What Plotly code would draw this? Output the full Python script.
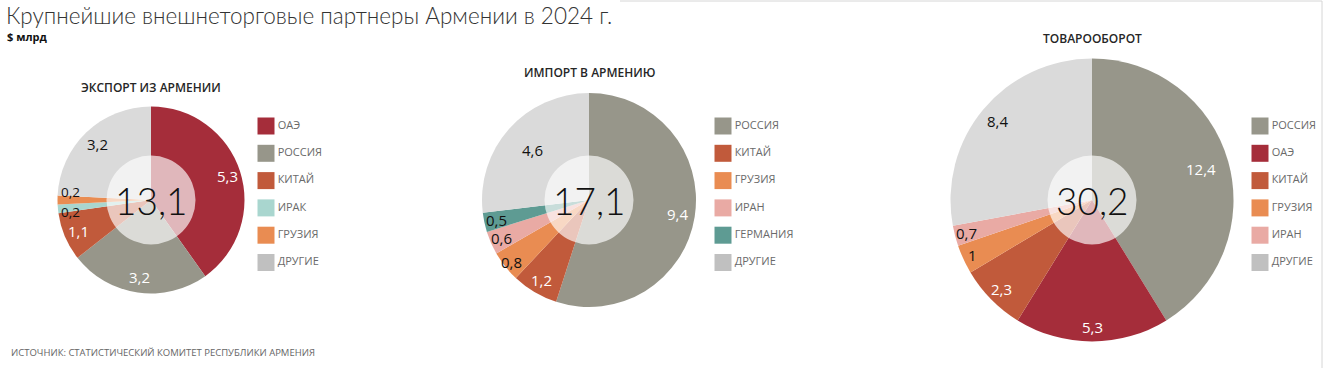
import math
import plotly.graph_objects as go

W, H = 1326, 368

# ---------------- data ----------------
export_labels = ["ОАЭ", "РОССИЯ", "КИТАЙ", "ИРАК", "ГРУЗИЯ", "ДРУГИЕ"]
export_values = [5.3, 3.2, 1.1, 0.2, 0.2, 3.2]
export_total = 13.1

import_labels = ["РОССИЯ", "КИТАЙ", "ГРУЗИЯ", "ИРАН", "ГЕРМАНИЯ", "ДРУГИЕ"]
import_values = [9.4, 1.2, 0.8, 0.6, 0.5, 4.6]
import_total = 17.1

trade_labels = ["РОССИЯ", "ОАЭ", "КИТАЙ", "ГРУЗИЯ", "ИРАН", "ДРУГИЕ"]
trade_values = [12.4, 5.3, 2.3, 1.0, 0.7, 8.4]
trade_total = 30.2

chart_titles = ["ЭКСПОРТ ИЗ АРМЕНИИ", "ИМПОРТ В АРМЕНИЮ", "ТОВАРООБОРОТ"]
main_title = "Крупнейшие внешнеторговые партнеры Армении в 2024 г."
unit_text = "$ млрд"
source_text = "ИСТОЧНИК: СТАТИСТИЧЕСКИЙ КОМИТЕТ РЕСПУБЛИКИ АРМЕНИЯ"

# ---------------- styles ----------------
COLORS = {
    "ОАЭ": "#A52D3A",
    "РОССИЯ": "#97968A",
    "КИТАЙ": "#C15A3B",
    "ИРАК": "#A9D6CF",
    "ГРУЗИЯ": "#E98C52",
    "ИРАН": "#E9AAA4",
    "ГЕРМАНИЯ": "#5E9B93",
    "ДРУГИЕ": "#DADADA",
}
SWATCH = dict(COLORS, **{"ДРУГИЕ": "#C0C0C0"})
WHITE_TEXT = {"ОАЭ", "РОССИЯ", "КИТАЙ"}

# layout geometry (pixels): centre x, centre y, radius, title y, legend swatch x,
# label radial factor, small angular nudge (deg) and font size per slice label
PIES = [
    dict(cx=151, cy=200, r=93.5, ty=87, lx=266,
         rf=[0.86, 0.83, 0.84, 0.87, 0.87, 0.83], da=[0, 0, 0, -3, 5.5, 0],
         fs=[15, 15, 15, 13.5, 13.5, 15]),
    dict(cx=589, cy=200, r=107, ty=72, lx=723,
         rf=[0.84, 0.87, 0.93, 0.89, 0.88, 0.70], da=[0, 0, 0, 0, 0, 0],
         fs=[15, 15, 15, 15, 15, 15]),
    dict(cx=1092, cy=200, r=141.5, ty=39, lx=1260,
         rf=[0.80, 0.90, 0.90, 0.93, 0.92, 0.87], da=[0, 0, 0, 0, 0, 0],
         fs=[15, 15, 15, 15, 15, 15]),
]
INNER_R = 44.5
LEG_TOP, LEG_STEP = 126, 27.3

FONT = "Open Sans"
LIGHT = "Lato"

datasets = [
    (export_labels, export_values, export_total),
    (import_labels, import_values, import_total),
    (trade_labels, trade_values, trade_total),
]


def fmt(v):
    return f"{v:g}".replace(".", ",")


def domain(cx, cy, r):
    return dict(x=[(cx - r) / W, (cx + r) / W], y=[(H - cy - r) / H, (H - cy + r) / H])


fig = go.Figure()
annotations = []
layout_axes = {}

for i, ((labels, values, total), g) in enumerate(zip(datasets, PIES)):
    cx, cy, r = g["cx"], g["cy"], g["r"]
    fig.add_trace(go.Pie(
        labels=labels, values=values, sort=False, direction="clockwise", rotation=0,
        marker=dict(colors=[COLORS[l] for l in labels], line=dict(width=0)),
        textinfo="none", hoverinfo="label+value", showlegend=False,
        domain=domain(cx, cy, r),
    ))
    # semi-transparent centre disc with the total
    fig.add_trace(go.Pie(
        values=[1], labels=[""], sort=False,
        marker=dict(colors=["rgba(255,255,255,0.66)"], line=dict(width=0)),
        textinfo="none", hoverinfo="skip", showlegend=False,
        domain=domain(cx, cy, INNER_R),
    ))
    annotations.append(dict(
        x=cx / W, y=(H - cy) / H, xref="paper", yref="paper", text=fmt(total),
        showarrow=False, xanchor="center", yanchor="middle",
        font=dict(family=LIGHT, size=37, color="#111", weight=300),
    ))
    # slice value labels placed along each slice bisector
    tot = sum(values)
    cum = 0.0
    for k, (lab, v) in enumerate(zip(labels, values)):
        mid = (cum + v / 2) / tot * 2 * math.pi + math.radians(g["da"][k])
        cum += v
        R = g["rf"][k] * r
        px = cx + R * math.sin(mid)
        py = cy - R * math.cos(mid)
        annotations.append(dict(
            x=px / W, y=(H - py) / H, xref="paper", yref="paper", text=fmt(v),
            showarrow=False, xanchor="center", yanchor="middle",
            font=dict(family=FONT, size=g["fs"][k],
                      color="#ffffff" if lab in WHITE_TEXT else "#111111"),
        ))
    # chart sub-title
    annotations.append(dict(
        x=cx / W, y=(H - g["ty"]) / H, xref="paper", yref="paper", text=chart_titles[i],
        showarrow=False, xanchor="center", yanchor="middle",
        font=dict(family=FONT, size=12, color="#262626", weight=600),
    ))
    # legend drawn as a scatter on hidden axes
    ax = "" if i == 0 else str(i + 1)
    fig.add_trace(go.Scatter(
        x=[0] * len(labels), y=list(range(len(labels))),
        mode="markers+text", text=labels, textposition="middle right",
        marker=dict(symbol="square", size=17, color=[SWATCH[l] for l in labels], line=dict(width=0)),
        textfont=dict(family=FONT, size=11, color="#6a6a6a"),
        xaxis="x" + ax, yaxis="y" + ax, showlegend=False, hoverinfo="skip", cliponaxis=False,
    ))
    n = len(labels)
    top = LEG_TOP
    bot = LEG_TOP + LEG_STEP * (n - 1)
    layout_axes["xaxis" + ax] = dict(domain=[g["lx"] / W, (g["lx"] + 60) / W], range=[0, 1],
                                     visible=False, fixedrange=True, anchor="y" + ax)
    layout_axes["yaxis" + ax] = dict(domain=[(H - bot) / H, (H - top) / H], range=[n - 1, 0],
                                     visible=False, fixedrange=True, anchor="x" + ax)

annotations += [
    dict(x=4 / W, y=(H - 16) / H, xref="paper", yref="paper", text=main_title,
         showarrow=False, xanchor="left", yanchor="middle",
         font=dict(family=LIGHT, size=22.5, color="#333333", weight=300)),
    dict(x=5 / W, y=(H - 37) / H, xref="paper", yref="paper", text=unit_text,
         showarrow=False, xanchor="left", yanchor="middle",
         font=dict(family=FONT, size=11, color="#111111", weight=700)),
    dict(x=9 / W, y=(H - 352) / H, xref="paper", yref="paper", text=source_text,
         showarrow=False, xanchor="left", yanchor="middle",
         font=dict(family=FONT, size=9.5, color="#666666")),
]

fig.update_layout(
    width=W, height=H, autosize=False,
    margin=dict(l=0, r=0, t=0, b=0),
    paper_bgcolor="white", plot_bgcolor="white",
    annotations=annotations,
    shapes=[
        dict(type="line", xref="paper", yref="paper", x0=620 / W, x1=1322 / W,
             y0=(H - 1) / H, y1=(H - 1) / H, line=dict(color="#d6d6d6", width=1)),
        dict(type="line", xref="paper", yref="paper", x0=1322 / W, x1=1322 / W,
             y0=0, y1=(H - 1) / H, line=dict(color="#d6d6d6", width=1)),
    ],
    **layout_axes,
)

fig.write_html("out.html", config={"displayModeBar": False},
               post_script="document.body.style.margin='0';document.body.style.overflow='hidden';")
